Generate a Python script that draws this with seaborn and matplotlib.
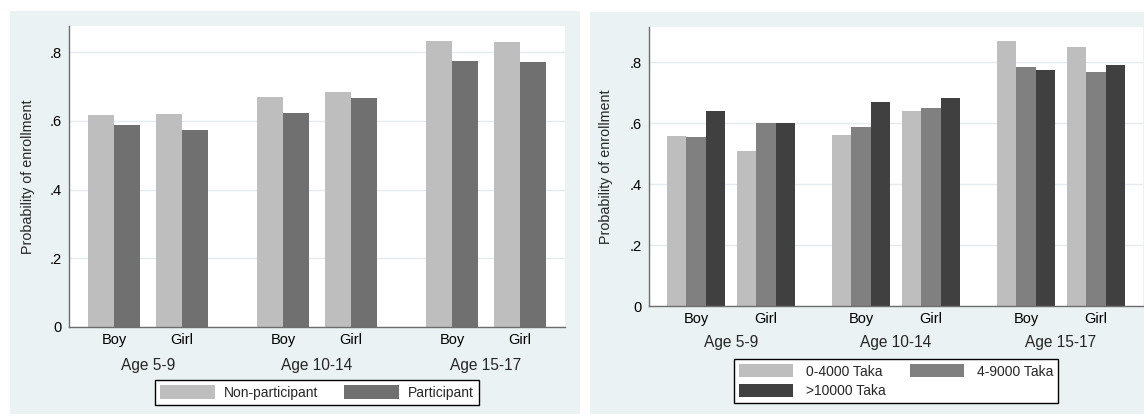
"""Enrollment probability by age, sex, programme participation and household income."""

import matplotlib

matplotlib.use("Agg")

import matplotlib.pyplot as plt
from matplotlib.patches import Patch, Rectangle
import pandas as pd
import seaborn as sns


AGE_GROUPS = ["Age 5-9", "Age 10-14", "Age 15-17"]
SEXES = ["Boy", "Girl"]

# left panel, order: (5-9 boy, 5-9 girl, 10-14 boy, 10-14 girl, 15-17 boy, 15-17 girl)
PARTICIPATION = ["Non-participant", "Participant"]
NON_PARTICIPANT = [0.617, 0.620, 0.670, 0.685, 0.833, 0.830]
PARTICIPANT = [0.588, 0.574, 0.623, 0.667, 0.775, 0.772]

# right panel, same order
INCOME_GROUPS = ["0-4000 Taka", "4-9000 Taka", ">10000 Taka"]
INCOME_LOW = [0.558, 0.509, 0.562, 0.641, 0.870, 0.850]
INCOME_MID = [0.555, 0.601, 0.588, 0.651, 0.785, 0.768]
INCOME_HIGH = [0.640, 0.601, 0.670, 0.684, 0.775, 0.791]

Y_TICKS = [0, 0.2, 0.4, 0.6, 0.8]
Y_TICK_LABELS = ["0", ".2", ".4", ".6", ".8"]
Y_LABEL = "Probability of enrollment"

FIG_W, FIG_H = 1144, 416
PANEL_BG = "#EAF2F3"
GRID_COLOR = "#E2ECEE"
AXIS_COLOR = "#6E6E6E"


def px_box(x0, y0, x1, y1):
    """Pixel box (top-left origin) to figure-fraction rect."""
    return [x0 / FIG_W, 1 - y1 / FIG_H, (x1 - x0) / FIG_W, (y1 - y0) / FIG_H]


def long_frame(names, series, group_step):
    rows = []
    for name, values in zip(names, series):
        for k, value in enumerate(values):
            age_idx, sex_idx = divmod(k, len(SEXES))
            rows.append(
                {
                    "series": name,
                    "age": AGE_GROUPS[age_idx],
                    "sex": SEXES[sex_idx],
                    "pos": age_idx * group_step + sex_idx,
                    "value": value,
                }
            )
    return pd.DataFrame(rows)


def draw_panel(fig, box, bg_box, names, series, colors, group_step, width, xlim, ylim,
               tick_pad, group_offset, ylabel_x):
    fig.add_artist(
        Rectangle((bg_box[0], bg_box[1]), bg_box[2], bg_box[3], transform=fig.transFigure,
                  facecolor=PANEL_BG, edgecolor="none", zorder=-1)
    )
    ax = fig.add_axes(box)
    frame = long_frame(names, series, group_step)
    sns.barplot(
        data=frame,
        x="pos",
        y="value",
        hue="series",
        hue_order=names,
        palette=dict(zip(names, colors)),
        native_scale=True,
        width=width,
        errorbar=None,
        linewidth=0,
        legend=False,
        ax=ax,
    )
    ax.set_facecolor("white")
    ax.set_xlim(*xlim)
    ax.set_ylim(*ylim)

    positions = sorted(frame["pos"].unique())
    ax.set_xticks(positions, SEXES * len(AGE_GROUPS))
    ax.tick_params(axis="x", length=0, pad=tick_pad, labelsize=10.5, colors="black")
    ax.set_yticks(Y_TICKS, Y_TICK_LABELS)
    ax.tick_params(axis="y", length=3, width=1, pad=2, labelsize=10.5, color=AXIS_COLOR,
                   labelcolor="black")

    for i, age in enumerate(AGE_GROUPS):
        center = i * group_step + 0.5
        ax.annotate(age, xy=(center, 0), xycoords=("data", "axes fraction"),
                    xytext=(0, -group_offset), textcoords="offset points",
                    ha="center", va="center", fontsize=11.2)

    ax.set_xlabel("")
    ax.set_ylabel(Y_LABEL, fontsize=10.3)
    ax.yaxis.set_label_coords(ylabel_x, 0.5)

    ax.yaxis.grid(True, color=GRID_COLOR, linewidth=1.0)
    ax.xaxis.grid(False)
    ax.set_axisbelow(True)
    for side in ("top", "right"):
        ax.spines[side].set_visible(False)
    for side in ("left", "bottom"):
        ax.spines[side].set_color(AXIS_COLOR)
        ax.spines[side].set_linewidth(1.0)
    return ax


def main():
    sns.set_style("white")
    plt.rcParams["font.family"] = ["Liberation Sans", "DejaVu Sans"]

    fig = plt.figure(figsize=(FIG_W / 100, FIG_H / 100), dpi=100)
    fig.patch.set_facecolor("white")

    left_colors = ["#BEBEBE", "#707070"]
    draw_panel(
        fig,
        px_box(69, 26, 565, 327),
        px_box(10, 11, 580, 414),
        PARTICIPATION,
        [NON_PARTICIPANT, PARTICIPANT],
        left_colors,
        group_step=2.485,
        width=0.765,
        xlim=(-0.662, 6.632),
        ylim=(0, 0.8766),
        tick_pad=4.6,
        group_offset=27.4,
        ylabel_x=-0.0685,
    )
    handles = [Patch(facecolor=c, edgecolor="none") for c in left_colors]
    leg = fig.legend(
        handles, PARTICIPATION, loc="center", bbox_to_anchor=(317 / FIG_W, 1 - 392.5 / FIG_H),
        ncol=2, frameon=True, fancybox=False, framealpha=1, edgecolor="black",
        handlelength=3.9, handleheight=1.08, handletextpad=0.65, columnspacing=1.9,
        borderpad=0.4, borderaxespad=0, fontsize=10,
    )
    leg.get_frame().set_linewidth(1.0)

    right_colors = ["#BEBEBE", "#808080", "#404040"]
    draw_panel(
        fig,
        px_box(649, 27, 1143, 306),
        px_box(590, 12, 1144, 414),
        INCOME_GROUPS,
        [INCOME_LOW, INCOME_MID, INCOME_HIGH],
        right_colors,
        group_step=2.357,
        width=0.829,
        xlim=(-0.671, 6.386),
        ylim=(0, 0.916),
        tick_pad=4.0,
        group_offset=26.6,
        ylabel_x=-0.0729,
    )
    handles = [Patch(facecolor=c, edgecolor="none") for c in right_colors]
    # row-major order for a two-column legend
    order = [0, 2, 1]
    leg = fig.legend(
        [handles[i] for i in order], [INCOME_GROUPS[i] for i in order], loc="center",
        bbox_to_anchor=(896 / FIG_W, 1 - 381 / FIG_H),
        ncol=2, frameon=True, fancybox=False, framealpha=1, edgecolor="black",
        handlelength=3.9, handleheight=1.08, handletextpad=0.9, columnspacing=1.75,
        labelspacing=0.36, borderpad=0.4, borderaxespad=0, fontsize=10,
    )
    leg.get_frame().set_linewidth(1.0)

    fig.savefig("out.png", dpi=100, facecolor="white")


if __name__ == "__main__":
    main()
